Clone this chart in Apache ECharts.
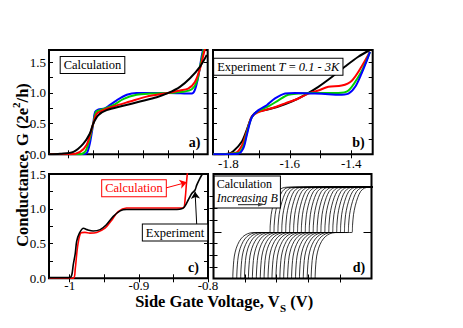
<!DOCTYPE html>
<html><head><meta charset="utf-8">
<script src="https://cdn.jsdelivr.net/npm/echarts@6/dist/echarts.min.js"></script>
<style>html,body{margin:0;padding:0;background:#fff;}#c{width:463px;height:328px;}</style>
</head><body><div id="c"></div>
<script>
// ---------- Panel a (calculation, 4 temperatures) ----------
const aBlueX  = [-1.850,-1.738,-1.726,-1.716,-1.705,-1.699,-1.688,-1.667,-1.628,-1.595,-1.563,-1.459,-1.382,-1.372,-1.361,-1.350,-1.342];
const aBlueG  = [0,0,0.02,0.18,0.50,0.69,0.73,0.75,0.88,0.97,1.00,1.00,0.99,1.05,1.26,1.59,1.78];
const aGreenX = [-1.850,-1.754,-1.732,-1.718,-1.705,-1.696,-1.683,-1.639,-1.607,-1.563,-1.519,-1.459,-1.410,-1.382,-1.366,-1.355,-1.346,-1.340];
const aGreenG = [0,0,0.04,0.23,0.50,0.69,0.72,0.80,0.90,0.97,0.99,1.00,1.02,1.06,1.18,1.43,1.64,1.78];
const aRedX   = [-1.850,-1.781,-1.748,-1.726,-1.716,-1.705,-1.694,-1.677,-1.639,-1.585,-1.530,-1.459,-1.421,-1.394,-1.372,-1.355,-1.344,-1.336];
const aRedG   = [0,0,0.04,0.16,0.31,0.50,0.66,0.71,0.78,0.86,0.94,1.00,1.04,1.07,1.18,1.40,1.62,1.78];
const aBlackX = [-1.850,-1.814,-1.770,-1.738,-1.716,-1.705,-1.688,-1.661,-1.607,-1.552,-1.497,-1.459,-1.421,-1.388,-1.355,-1.333];
const aBlackG = [0,0.01,0.04,0.17,0.34,0.50,0.64,0.72,0.79,0.86,0.93,1.00,1.10,1.24,1.43,1.62];
// ---------- Panel b (experiment T = 0.1 - 3K) ----------
const bBlackX = [-1.849,-1.800,-1.784,-1.757,-1.740,-1.724,-1.708,-1.681,-1.637,-1.594,-1.550,-1.507,-1.463,-1.420,-1.377,-1.339];
const bBlackG = [0,0.01,0.05,0.20,0.40,0.61,0.69,0.72,0.78,0.86,0.97,1.10,1.26,1.43,1.59,1.70];
const bRedX   = [-1.849,-1.778,-1.757,-1.740,-1.724,-1.702,-1.659,-1.615,-1.572,-1.540,-1.507,-1.474,-1.431,-1.398,-1.366,-1.339];
const bRedG   = [0,0.02,0.13,0.37,0.61,0.69,0.75,0.83,0.91,0.99,1.04,1.10,1.12,1.20,1.43,1.67];
const bGreenX = [-1.849,-1.768,-1.751,-1.740,-1.724,-1.702,-1.670,-1.637,-1.605,-1.572,-1.529,-1.442,-1.409,-1.377,-1.355,-1.339];
const bGreenG = [0,0.02,0.13,0.34,0.60,0.71,0.78,0.88,0.97,0.99,1.00,1.00,1.04,1.26,1.47,1.67];
const bBlueX  = [-1.849,-1.768,-1.751,-1.740,-1.724,-1.702,-1.675,-1.648,-1.615,-1.583,-1.518,-1.474,-1.442,-1.409,-1.387,-1.366,-1.349,-1.339];
const bBlueG  = [0,0.01,0.10,0.31,0.60,0.72,0.80,0.91,0.99,1.00,0.99,0.98,0.97,0.99,1.10,1.32,1.53,1.67];
// ---------- Panel c (calculation vs experiment) ----------
const cExpX  = [-1.030,-1.000,-0.997,-0.995,-0.992,-0.990,-0.986,-0.980,-0.975,-0.966,-0.956,-0.947,-0.937,-0.927,-0.918,-0.898,-0.874,-0.850,-0.836,-0.8284,-0.8235,-0.8187,-0.8163,-0.8115,-0.8081,-0.804];
const cExpG  = [0.01,0.01,0.05,0.19,0.36,0.53,0.65,0.72,0.70,0.68,0.70,0.77,0.89,0.97,0.99,0.99,0.99,0.99,1.01,1.13,1.22,1.27,1.34,1.44,1.50,1.56];
const cCalcX = [-1.030,-0.995,-0.992,-0.990,-0.988,-0.984,-0.978,-0.971,-0.961,-0.949,-0.939,-0.930,-0.918,-0.898,-0.850,-0.836,-0.833,-0.831,-0.829];
const cCalcG = [0,0,0.14,0.34,0.50,0.65,0.66,0.65,0.66,0.72,0.84,0.96,1.01,1.01,1.01,1.01,1.15,1.39,1.60];
// ---------- Panel d (calculation, increasing B; one traced curve and per-curve shifts) ----------
const dBaseX = [12.2,12.25,12.6,13.2,14.4,16.3,18.6,21.5,25.0,35.6,35.9,36.5,37.6,39.2,41.0,43.3,46.5,130];
const dBaseY = [-8,3.3,13.0,21.5,29.0,35.5,40.0,42.8,44.0,44.0,51.0,61.0,69.5,77.5,83.3,86.4,87.4,87.4];
const dShift = [0,2.5,5.0,7.4,9.9,12.4,14.9,17.4,19.8,22.3,24.8,27.3,29.8,32.2,34.7,37.2,39.7,42.2,44.6,47.1,49.6,52.1];
// ---------- ticks ----------
const abYTicks = [0,0.25,0.5,0.75,1.0,1.25,1.5];
const abYLabels = [0,0.5,1.0,1.5];
const aXTicks = [-1.787,-1.705,-1.623,-1.541,-1.459,-1.377];
const bXTicks = [-1.8,-1.7,-1.6,-1.5,-1.4];
const bXLabels = [-1.8,-1.6,-1.4];
const cXTicks = [-1.0,-0.95,-0.9,-0.85,-0.8];
const cXLabels = [-1.0,-0.9,-0.8];
const cYTicks = [0,0.25,0.5,0.75,1.0,1.25,1.5];
const cYLabels = [0,0.5,1.0,1.5];
const dXTicks = [20,40,60,80];
const dYTicks = [11.2,22.4,33.6,56,67.2,78.4];
const dYLong = [44.3];

const pairs = (xs, ys) => xs.map((x, i) => [x, ys[i]]);
const SERIF = 'Liberation Serif';

const chart = echarts.init(document.getElementById('c'), null, {renderer: 'svg'});

const grid = [
  {left: 49, top: 50, width: 158.7, height: 104.3},
  {left: 213, top: 50, width: 159.7, height: 104.3},
  {left: 49, top: 174, width: 159, height: 104.3},
  {left: 213.5, top: 174, width: 158, height: 104.5}
].map(g => Object.assign(g, {show: true, borderColor: '#000', borderWidth: 2, backgroundColor: 'transparent'}));

function ax(gi, pos, min, max, ticks, labels, fmt, len, margin) {
  const a = {
    type: 'value', gridIndex: gi, position: pos, min: min, max: max,
    axisLine: {show: false}, splitLine: {show: false},
    axisTick: {show: true, inside: true, length: len || 4, lineStyle: {color: '#000', width: 1}, customValues: ticks},
    axisLabel: {show: false}
  };
  if (labels) {
    a.axisLabel = {show: true, customValues: labels, formatter: fmt, fontFamily: SERIF, fontSize: 13, color: '#000', margin: margin};
  }
  return a;
}
const f1 = v => v.toFixed(1);
const fc = v => (Math.abs(v + 1) < 1e-9 ? '-1' : v.toFixed(1));

const xAxis = [
  ax(0, 'bottom', -1.85, -1.33, aXTicks),
  ax(0, 'top', -1.85, -1.33, aXTicks),
  ax(1, 'bottom', -1.85, -1.33, bXTicks, bXLabels, f1, 4, 3),
  ax(1, 'top', -1.85, -1.33, bXTicks),
  ax(2, 'bottom', -1.03, -0.8, cXTicks, cXLabels, fc, 4, 1),
  ax(2, 'top', -1.03, -0.8, cXTicks),
  ax(3, 'bottom', 0, 100, dXTicks),
  ax(3, 'top', 0, 100, dXTicks)
];
const yAxis = [
  ax(0, 'left', 0, 1.7, abYTicks, abYLabels, f1, 4, 3),
  ax(0, 'right', 0, 1.7, abYTicks),
  ax(1, 'left', 0, 1.7, abYTicks),
  ax(1, 'right', 0, 1.7, abYTicks),
  ax(2, 'left', 0, 1.5, cYTicks, cYLabels, f1, 4, 3),
  ax(2, 'right', 0, 1.5, cYTicks),
  ax(3, 'left', 0, 100, dYTicks),
  ax(3, 'right', 0, 100, dYTicks),
  ax(3, 'left', 0, 100, dYLong, null, null, 8),
  ax(3, 'right', 0, 100, dYLong, null, null, 8)
];

function line(xi, yi, data, color, width, extra) {
  return Object.assign({
    type: 'line', xAxisIndex: xi, yAxisIndex: yi, data: data,
    showSymbol: false, symbol: 'none', smooth: 0.3, clip: true,
    lineStyle: {color: color, width: width}, silent: true, animation: false
  }, extra || {});
}
const GREEN = '#00d000';
const series = [
  line(0, 0, pairs(aBlueX, aBlueG), '#0000ff', 2),
  line(0, 0, pairs(aGreenX, aGreenG), GREEN, 2),
  line(0, 0, pairs(aRedX, aRedG), '#ff0000', 2),
  line(0, 0, pairs(aBlackX, aBlackG), '#000000', 2),
  line(2, 2, pairs(bBlackX, bBlackG), '#000000', 2),
  line(2, 2, pairs(bRedX, bRedG), '#ff0000', 2),
  line(2, 2, pairs(bGreenX, bGreenG), GREEN, 2),
  line(2, 2, pairs(bBlueX, bBlueG), '#0000ff', 2),
  line(4, 4, pairs(cCalcX, cCalcG), '#ff0000', 1.6, {
    markLine: {silent: true, animation: false, symbol: ['none', 'arrow'], symbolSize: 7,
      label: {show: false}, lineStyle: {color: '#ff0000', width: 1, type: 'solid'},
      data: [[{coord: [-0.8645, 1.29]}, {coord: [-0.8307, 1.38]}]]}
  }),
  line(4, 4, pairs(cExpX, cExpG), '#000000', 1.6, {
    markLine: {silent: true, animation: false, symbol: ['none', 'arrow'], symbolSize: 7,
      label: {show: false}, lineStyle: {color: '#000000', width: 1, type: 'solid'},
      data: [[{coord: [-0.8163, 0.767]}, {coord: [-0.8187, 1.246]}]]}
  })
];
dShift.forEach(s => {
  series.push(line(6, 6, dBaseX.map((x, k) => [x + s, dBaseY[k]]), '#000000', 0.8));
});

const boxStyle = (color) => ({backgroundColor: '#fff', borderColor: color, borderWidth: 1, padding: [2, 3, 1, 3]});
const graphic = [
  {type: 'text', z: 100, x: 92.5, y: 65, style: Object.assign({text: 'Calculation', fontFamily: SERIF, fontSize: 12.5, fill: '#000', align: 'center', verticalAlign: 'middle'}, boxStyle('#000'))},
  {type: 'text', z: 100, x: 278.3, y: 66.7, style: Object.assign({
    text: '{n|Experiment }{i|T}{n| = }{i|0.1 - 3K}', align: 'center', verticalAlign: 'middle',
    rich: {n: {fontFamily: SERIF, fontSize: 12.5, fill: '#000'}, i: {fontFamily: SERIF, fontSize: 12.5, fontStyle: 'italic', fill: '#000'}}
  }, boxStyle('#000'))},
  {type: 'text', z: 100, x: 134, y: 188.3, style: Object.assign({text: 'Calculation', fontFamily: SERIF, fontSize: 12.5, fill: '#ff0000', align: 'center', verticalAlign: 'middle'}, boxStyle('#ff0000'))},
  {type: 'text', z: 100, x: 175, y: 232.5, style: Object.assign({text: 'Experiment', fontFamily: SERIF, fontSize: 12.5, fill: '#000', align: 'center', verticalAlign: 'middle'}, boxStyle('#000'))},
  {type: 'text', z: 100, x: 214.7, y: 176.5, style: {
    text: '{n|Calculation}\n{i|Increasing B}\n{s| }', align: 'left', verticalAlign: 'top',
    backgroundColor: '#fff', borderColor: '#000', borderWidth: 1, padding: [1, 2, 0, 2],
    rich: {n: {fontFamily: SERIF, fontSize: 12, fill: '#000', lineHeight: 13.5},
           i: {fontFamily: SERIF, fontSize: 12, fontStyle: 'italic', fill: '#000', lineHeight: 13.5},
           s: {fontSize: 3, lineHeight: 3}}
  }},
  {type: 'line', z: 101, shape: {x1: 238, y1: 204.6, x2: 259, y2: 204.6}, style: {stroke: '#444', lineWidth: 1.2}},
  {type: 'polygon', z: 101, shape: {points: [[258, 202.6], [264, 204.6], [258, 206.6]]}, style: {fill: '#444'}},
  {type: 'text', z: 100, x: 194.5, y: 142, style: {text: 'a)', fontFamily: SERIF, fontSize: 14, fontWeight: 'bold', fill: '#000', align: 'center', verticalAlign: 'middle'}},
  {type: 'text', z: 100, x: 358.5, y: 142, style: {text: 'b)', fontFamily: SERIF, fontSize: 14, fontWeight: 'bold', fill: '#000', align: 'center', verticalAlign: 'middle'}},
  {type: 'text', z: 100, x: 193.5, y: 267.5, style: {text: 'c)', fontFamily: SERIF, fontSize: 14, fontWeight: 'bold', fill: '#000', align: 'center', verticalAlign: 'middle'}},
  {type: 'text', z: 100, x: 359, y: 267.5, style: {text: 'd)', fontFamily: SERIF, fontSize: 14, fontWeight: 'bold', fill: '#000', align: 'center', verticalAlign: 'middle'}},
  {type: 'text', z: 100, x: 224, y: 301, style: {
    text: '{b|Side Gate Voltage, V}{s|S}{b| (V)}', align: 'center', verticalAlign: 'middle',
    rich: {b: {fontFamily: SERIF, fontSize: 16.5, fontWeight: 'bold', fill: '#000', lineHeight: 16, verticalAlign: 'top'},
           s: {fontFamily: SERIF, fontSize: 11, fontWeight: 'bold', fill: '#000', lineHeight: 11, padding: [9, 0, 0, 0], verticalAlign: 'top'}}
  }},
  {type: 'text', z: 100, x: 19, y: 165, rotation: Math.PI / 2, style: {
    text: '{b|Conductance, G (2e}{p|2}{b|/h)}', align: 'center', verticalAlign: 'middle',
    rich: {b: {fontFamily: SERIF, fontSize: 16.5, fontWeight: 'bold', fill: '#000', lineHeight: 18, padding: [4, 0, 0, 0], verticalAlign: 'top'},
           p: {fontFamily: SERIF, fontSize: 11, fontWeight: 'bold', fill: '#000', lineHeight: 11, verticalAlign: 'top'}}
  }}
];

chart.setOption({
  animation: false,
  backgroundColor: '#fff',
  grid: grid, xAxis: xAxis, yAxis: yAxis, series: series, graphic: graphic
});
</script></body></html>
